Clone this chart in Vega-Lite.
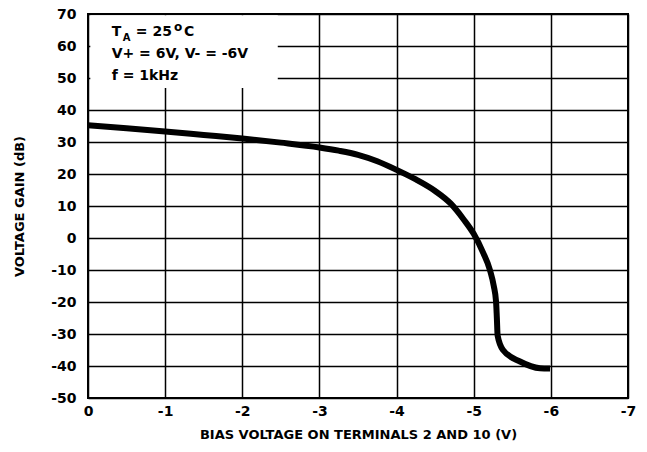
{
  "$schema": "https://vega.github.io/schema/vega-lite/v6.json",
  "width": 540,
  "height": 384,
  "autosize": "none",
  "padding": {"left": 88, "top": 14, "right": 19, "bottom": 54},
  "background": "white",
  "config": {
    "view": {"stroke": "black", "strokeWidth": 2},
    "font": "DejaVu Sans",
    "locale": {"number": {"decimal": ".", "thousands": ",", "grouping": [3], "currency": ["$", ""], "minus": "-"}},
    "axis": {
      "labelFont": "DejaVu Sans",
      "titleFont": "DejaVu Sans",
      "labelFontWeight": "bold",
      "titleFontWeight": "bold",
      "labelFontSize": 14,
      "titleFontSize": 13,
      "labelColor": "black",
      "titleColor": "black",
      "labelFlush": false,
      "labelOverlap": false,
      "grid": true,
      "gridColor": "black",
      "gridWidth": 1.5,
      "gridOpacity": 1,
      "ticks": false,
      "domain": false
    }
  },
  "datasets": {
    "curve": [
      {"v": 0, "g": 35.2},
      {"v": -0.5, "g": 34.3},
      {"v": -1, "g": 33.3},
      {"v": -1.5, "g": 32.2},
      {"v": -2, "g": 31.1},
      {"v": -2.5, "g": 29.8},
      {"v": -3, "g": 28.3},
      {"v": -3.25, "g": 27.3},
      {"v": -3.5, "g": 26.0},
      {"v": -3.75, "g": 24.0},
      {"v": -4.0, "g": 21.3},
      {"v": -4.25, "g": 18.3},
      {"v": -4.5, "g": 14.7},
      {"v": -4.7, "g": 10.8},
      {"v": -4.87, "g": 5.8},
      {"v": -5.0, "g": 1.3},
      {"v": -5.12, "g": -4.5},
      {"v": -5.21, "g": -10.0},
      {"v": -5.26, "g": -15.0},
      {"v": -5.29, "g": -20.0},
      {"v": -5.3, "g": -25.0},
      {"v": -5.31, "g": -30.5},
      {"v": -5.38, "g": -35.0},
      {"v": -5.6, "g": -38.6},
      {"v": -5.86, "g": -40.7},
      {"v": -5.99, "g": -40.8}
    ],
    "box": [{"x1": -0.03, "x2": -2.46, "y1": 69.6, "y2": 46.9}],
    "label": [
      {"v": -0.307, "g": 63.1, "t": "T", "s": 14},
      {"v": -0.45, "g": 61.66, "t": "A", "s": 10},
      {"v": -0.62, "g": 63.1, "t": "= 25", "s": 14},
      {"v": -1.115, "g": 64.6, "t": "o", "s": 12},
      {"v": -1.244, "g": 63.1, "t": "C", "s": 14},
      {"v": -0.307, "g": 56.25, "t": "V+ = 6V, V- = -6V", "s": 14},
      {"v": -0.307, "g": 49.4, "t": "f = 1kHz", "s": 14}
    ]
  },
  "layer": [
    {
      "data": {"name": "curve"},
      "mark": {"type": "line", "color": "black", "strokeWidth": 6, "interpolate": "monotone", "strokeCap": "butt"},
      "encoding": {
        "x": {"field": "v", "type": "quantitative", "scale": {"domain": [0, -7]},
          "axis": {"values": [0, -1, -2, -3, -4, -5, -6, -7], "tickCount": 20, "format": "d", "title": "BIAS VOLTAGE ON TERMINALS 2 AND 10 (V)", "labelPadding": 6, "titlePadding": 10, "labelOverlap": false}},
        "y": {"field": "g", "type": "quantitative", "scale": {"domain": [-50, 70]},
          "axis": {"values": [-50, -40, -30, -20, -10, 0, 10, 20, 30, 40, 50, 60, 70], "tickCount": 20, "format": "d", "title": "VOLTAGE GAIN (dB)", "labelPadding": 12, "titlePadding": 24, "labelOverlap": false}}
      }
    },
    {
      "data": {"name": "box"},
      "mark": {"type": "rect", "color": "white"},
      "encoding": {
        "x": {"field": "x1", "type": "quantitative"},
        "x2": {"field": "x2"},
        "y": {"field": "y1", "type": "quantitative"},
        "y2": {"field": "y2"}
      }
    },
    {
      "data": {"name": "label"},
      "transform": [{"filter": "datum.s == 14"}],
      "mark": {"type": "text", "align": "left", "baseline": "alphabetic", "font": "DejaVu Sans", "fontWeight": "bold", "size": 14, "color": "black"},
      "encoding": {
        "x": {"field": "v", "type": "quantitative"},
        "y": {"field": "g", "type": "quantitative"},
        "text": {"field": "t"}
      }
    },
    {
      "data": {"name": "label"},
      "transform": [{"filter": "datum.s == 10"}],
      "mark": {"type": "text", "align": "left", "baseline": "alphabetic", "font": "DejaVu Sans", "fontWeight": "bold", "size": 10, "color": "black"},
      "encoding": {
        "x": {"field": "v", "type": "quantitative"},
        "y": {"field": "g", "type": "quantitative"},
        "text": {"field": "t"}
      }
    },
    {
      "data": {"name": "label"},
      "transform": [{"filter": "datum.s == 12"}],
      "mark": {"type": "text", "align": "left", "baseline": "alphabetic", "font": "DejaVu Sans", "fontWeight": "bold", "size": 12, "color": "black"},
      "encoding": {
        "x": {"field": "v", "type": "quantitative"},
        "y": {"field": "g", "type": "quantitative"},
        "text": {"field": "t"}
      }
    }
  ]
}
